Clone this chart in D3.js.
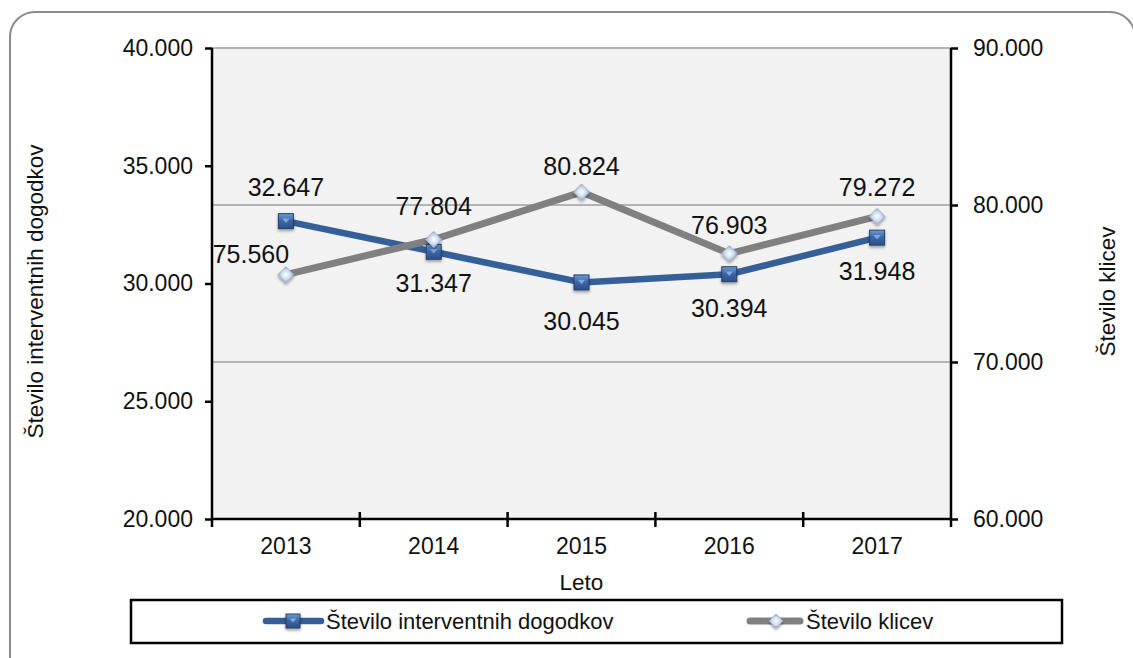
<!DOCTYPE html>
<html><head><meta charset="utf-8">
<script src="https://cdn.jsdelivr.net/npm/d3@7"></script>
<style>body{margin:0;background:#fff;}svg{display:block;font-family:"Liberation Sans",Arial,sans-serif;}</style>
</head><body>
<svg id="c" width="1133" height="658"></svg>
<script>
const years = ["2013","2014","2015","2016","2017"];
const interventions = [32647, 31347, 30045, 30394, 31948];
const calls = [75560, 77804, 80824, 76903, 79272];
const leftTicks = [20000, 25000, 30000, 35000, 40000];
const rightTicks = [60000, 70000, 80000, 90000];
const seriesNames = ["Število interventnih dogodkov", "Število klicev"];

const svg = d3.select("#c");
const defs = svg.append("defs");
const gb = defs.append("linearGradient").attr("id","gBlue").attr("x1",0).attr("y1",0).attr("x2",0).attr("y2",1);
gb.append("stop").attr("offset","0%").attr("stop-color","#6f9bd6");
gb.append("stop").attr("offset","45%").attr("stop-color","#3d68a8");
gb.append("stop").attr("offset","100%").attr("stop-color","#2c4f86");
const gd = defs.append("radialGradient").attr("id","gDia");
gd.append("stop").attr("offset","0%").attr("stop-color","#ffffff");
gd.append("stop").attr("offset","60%").attr("stop-color","#c9d9ee");
gd.append("stop").attr("offset","100%").attr("stop-color","#8fa9cc");
const sh = defs.append("filter").attr("id","sh").attr("x","-50%").attr("y","-50%").attr("width","200%").attr("height","200%");
sh.append("feDropShadow").attr("dx",0).attr("dy",2).attr("stdDeviation",1.5).attr("flood-color","#000").attr("flood-opacity",0.35);

// outer frame
svg.append("rect").attr("x",10).attr("y",12).attr("width",1125).attr("height",670).attr("rx",25)
  .attr("fill","none").attr("stroke","#8c8c8c").attr("stroke-width",2);

const L = 212, R = 951, T = 48, B = 519;
const x = d3.scaleBand().domain(years).range([L, R]);
const yL = d3.scaleLinear().domain([20000, 40000]).range([B, T]);
const yR = d3.scaleLinear().domain([60000, 90000]).range([B, T]);
const fmt3 = d => d3.format(",.0f")(d).replace(/,/g,".");
const tickFmt = d => (d/1000).toFixed(3);

svg.append("rect").attr("x",L).attr("y",T).attr("width",R-L).attr("height",B-T).attr("fill","#f2f2f2");
svg.append("g").selectAll("line").data(rightTicks.slice(1)).join("line")
  .attr("x1",L).attr("x2",R).attr("y1",d=>yR(d)).attr("y2",d=>yR(d))
  .attr("stroke","#b3b3b3").attr("stroke-width",2);

const axL = svg.append("g").attr("transform",`translate(${L},0)`)
  .call(d3.axisLeft(yL).tickValues(leftTicks).tickFormat(tickFmt).tickSize(7).tickPadding(12));
const axR = svg.append("g").attr("transform",`translate(${R},0)`)
  .call(d3.axisRight(yR).tickValues(rightTicks).tickFormat(tickFmt).tickSize(7).tickPadding(15));
const axB = svg.append("g").attr("transform",`translate(0,${B})`)
  .call(d3.axisBottom(x).tickSize(0).tickPadding(19));
[axL, axR, axB].forEach(a => {
  a.attr("font-size",23).attr("font-family","Liberation Sans, Arial, sans-serif");
  a.select(".domain").attr("stroke","#000").attr("stroke-width",2.5);
  a.selectAll(".tick line").attr("stroke","#000").attr("stroke-width",2.5);
  a.selectAll("text").attr("fill","#111");
});
axL.select(".domain").attr("d",`M0,${T}V${B}`);
axR.select(".domain").attr("d",`M0,${T}V${B}`);
axB.select(".domain").attr("d",`M${L},0H${R}`);
const sepX = years.map(y => x(y)).concat([R]);
svg.append("g").selectAll("line").data(sepX).join("line")
  .attr("x1",d=>d).attr("x2",d=>d).attr("y1",(d,i)=> (i===0||i===sepX.length-1)? B : B-7).attr("y2",B+8)
  .attr("stroke","#000").attr("stroke-width",2.5);

const cx = d => x(d) + x.bandwidth()/2;

const lineBlue = d3.line().x((d,i)=>cx(years[i])).y(d=>yL(d));
const lineGray = d3.line().x((d,i)=>cx(years[i])).y(d=>yR(d));
svg.append("path").datum(interventions).attr("d",lineBlue).attr("fill","none")
  .attr("stroke","#355f99").attr("stroke-width",6.5).attr("stroke-linejoin","round");
svg.append("path").datum(calls).attr("d",lineGray).attr("fill","none")
  .attr("stroke","#808080").attr("stroke-width",7).attr("stroke-linejoin","round");

function square(g, px, py, s) {
  g.append("rect").attr("x",px-s/2).attr("y",py-s/2).attr("width",s).attr("height",s)
    .attr("fill","url(#gBlue)").attr("stroke","#233f6b").attr("stroke-width",1).attr("filter","url(#sh)");
  g.append("path").attr("d",`M${px-s*0.25},${py-s*0.18}L${px+s*0.25},${py-s*0.18}L${px},${py+s*0.12}Z`)
    .attr("fill","#8fb5e6").attr("opacity",0.8);
}
function diamond(g, px, py, s) {
  g.append("path").attr("d",`M${px},${py-s/2}L${px+s/2},${py}L${px},${py+s/2}L${px-s/2},${py}Z`)
    .attr("fill","url(#gDia)").attr("stroke","#9fb3cf").attr("stroke-width",1).attr("filter","url(#sh)");
}
const mk = svg.append("g");
interventions.forEach((v,i)=> square(mk, cx(years[i]), yL(v), 15));
calls.forEach((v,i)=> diamond(mk, cx(years[i]), yR(v), 16));

// data labels (baseline offsets from markers)
const blueOff = [-25, 40, 48, 43, 42];
const grayOff = [-12, -24, -17, -20, -20];
const grayDx = [-35, 0, 0, 0, 0];
const lab = svg.append("g").attr("font-size",25).attr("fill","#111").attr("text-anchor","middle");
interventions.forEach((v,i)=> lab.append("text").attr("x",cx(years[i])).attr("y",yL(v)+blueOff[i]).text(fmt3(v)));
calls.forEach((v,i)=> lab.append("text").attr("x",cx(years[i])+grayDx[i]).attr("y",yR(v)+grayOff[i]).text(fmt3(v)));

svg.append("text").attr("transform",`translate(43,${(T+B)/2+8}) rotate(-90)`).attr("text-anchor","middle")
  .attr("font-size",22.5).attr("fill","#111").text(seriesNames[0]);
svg.append("text").attr("transform",`translate(1115,${(T+B)/2+8}) rotate(-90)`).attr("text-anchor","middle")
  .attr("font-size",22.5).attr("fill","#111").text(seriesNames[1]);
svg.append("text").attr("x",(L+R)/2).attr("y",590).attr("text-anchor","middle")
  .attr("font-size",22.5).attr("fill","#111").text("Leto");

svg.append("rect").attr("x",131).attr("y",600).attr("width",931).attr("height",43)
  .attr("fill","#fff").attr("stroke","#000").attr("stroke-width",2.5);
const lg = svg.append("g");
lg.append("line").attr("x1",266).attr("x2",321).attr("y1",621).attr("y2",621).attr("stroke","#355f99").attr("stroke-width",6.5).attr("stroke-linecap","round");
square(lg, 293, 621, 14);
lg.append("text").attr("x",326).attr("y",629).attr("font-size",22).attr("fill","#111").text(seriesNames[0]);
lg.append("line").attr("x1",750).attr("x2",800).attr("y1",621).attr("y2",621).attr("stroke","#808080").attr("stroke-width",7).attr("stroke-linecap","round");
diamond(lg, 776, 621, 14);
lg.append("text").attr("x",806).attr("y",629).attr("font-size",22).attr("fill","#111").text(seriesNames[1]);
</script>
</body></html>
